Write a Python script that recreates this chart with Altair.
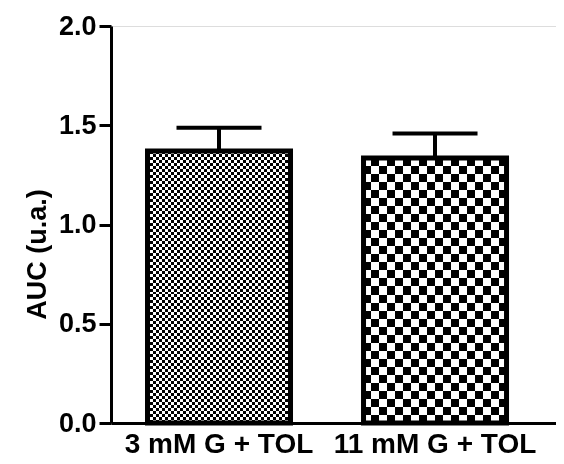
import altair as alt
import pandas as pd

categories = ["3 mM G + TOL", "11 mM G + TOL"]
means = [1.37, 1.335]
sems = [0.117, 0.124]

# style: checker cell size (px) per bar
cell_px = [3, 8]

W, H = 445, 397
Y_MAX = 2.0
BAR_W = 143

df = pd.DataFrame({"cat": categories, "mean": means, "sem": sems})
df["upper"] = df["mean"] + df["sem"]

x_enc = alt.X("cat:N", sort=categories,
              scale=alt.Scale(paddingInner=0.338, paddingOuter=0.199, align=0.4246),
              axis=alt.Axis(title=None, labelAngle=0, ticks=False, domainWidth=3,
                            domainColor="black", labelFont="Liberation Sans",
                            labelFontWeight="bold", labelFontSize=28, labelColor="black",
                            labelPadding=7, labelLimit=0, labelOverlap=False))
y_scale = alt.Scale(domain=[0, Y_MAX], nice=False)
y_enc = alt.Y("mean:Q", scale=y_scale,
              axis=alt.Axis(title="AUC (u.a.)", values=[0, 0.5, 1, 1.5, 2], format=".1f",
                            grid=False, domainWidth=3, domainColor="black", tickWidth=3,
                            tickColor="black", tickSize=12, labelFont="Liberation Sans",
                            labelFontWeight="bold", labelFontSize=27, labelColor="black",
                            labelPadding=3, titleFont="Liberation Sans",
                            titleFontWeight="bold", titleFontSize=27, titleColor="black",
                            titlePadding=7, titleY=228))


def stripe_stops(n, start_black=True):
    stops = []
    for i in range(n):
        black = (i % 2 == 0) == start_black
        col = "black" if black else "white"
        stops.append({"offset": i / n, "color": col})
        stops.append({"offset": (i + 1) / n, "color": col})
    return stops


layers = []
for cat, m, c in zip(categories, means, cell_px):
    h_px = m / Y_MAX * H
    n_rows = max(1, round(h_px / c))
    n_cols = max(1, round(BAR_W / c))
    base = alt.Chart(df).transform_filter(alt.datum.cat == cat)
    horiz = base.mark_bar(
        fill={"gradient": "linear", "x1": 0, "y1": 0, "x2": 0, "y2": 1,
              "stops": stripe_stops(n_rows, True)},
    ).encode(x=x_enc, y=y_enc)
    vert = base.mark_bar(
        fill={"gradient": "linear", "x1": 0, "y1": 0, "x2": 1, "y2": 0,
              "stops": stripe_stops(n_cols, False)},
        blend="difference",
    ).encode(x=x_enc, y=y_enc)
    layers += [horiz, vert]

outline = alt.Chart(df).mark_bar(fill="transparent", stroke="black", strokeWidth=5).encode(
    x=x_enc, y=y_enc)
stem = alt.Chart(df).mark_rule(color="black", strokeWidth=4, opacity=1).encode(
    x=x_enc, y=alt.Y("mean:Q", scale=y_scale), y2="upper:Q")
cap = alt.Chart(df).mark_tick(color="black", thickness=4, size=85, orient="horizontal",
                              opacity=1).encode(
    x=x_enc, y=alt.Y("upper:Q", scale=y_scale))

chart = alt.layer(*layers, stem, cap, outline).properties(
    width=W, height=H,
    autosize=alt.AutoSizeParams(type="none"),
    padding={"left": 103, "top": 18, "right": 0, "bottom": 40},
).configure_view(stroke=None).configure(background="white")

chart.save("out.html", embed_options={"renderer": "svg", "actions": False})
